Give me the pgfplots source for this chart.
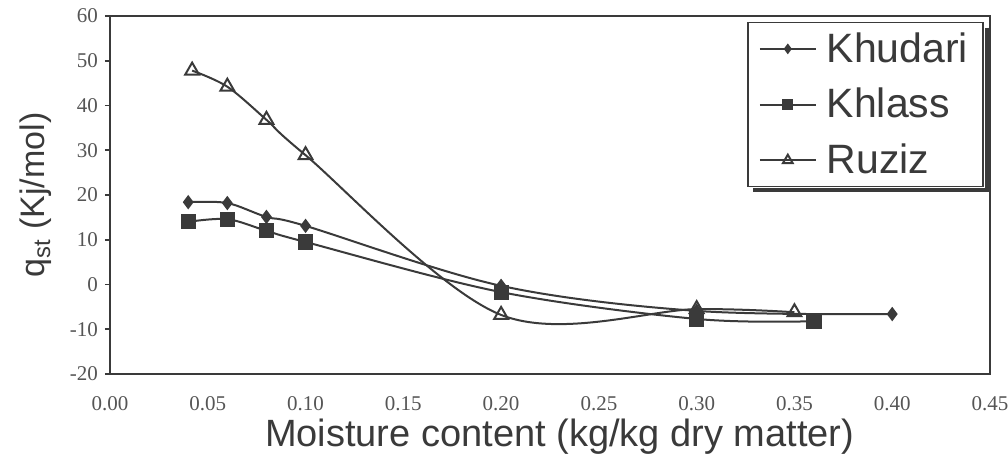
\documentclass[border=0pt]{standalone}
\usepackage{pgfplots}
\pgfplotsset{compat=1.18}
\usepackage{fontspec}
\setmainfont{Liberation Sans}
\newfontfamily\tickfont{Liberation Serif}

\definecolor{ink}{HTML}{3A3A3A}
\definecolor{tickgray}{HTML}{555555}

% Isosteric heat of sorption for three date varieties
\pgfplotstableread{
x     y
0.04  18.4
0.06  18.2
0.08  15.1
0.10  13.1
0.20  -0.3
0.30  -5.9
0.40  -6.6
}\khudari
\pgfplotstableread{
x     y
0.04  14.0
0.06  14.6
0.08  12.0
0.10  9.5
0.20  -1.7
0.30  -7.7
0.36  -8.2
}\khlass
\pgfplotstableread{
x     y
0.042 47.8
0.06  44.2
0.08  36.8
0.10  28.9
0.20  -6.8
0.30  -5.5
0.35  -6.2
}\ruziz

\begin{document}
\begin{tikzpicture}
\begin{axis}[
  scale only axis,
  width=440pt, height=179pt,
  xmin=0, xmax=0.45, ymin=-20, ymax=60,
  xtick={0,0.05,...,0.45},
  ytick={-20,-10,...,60},
  axis line style={ink, line width=1pt},
  tick style={ink, line width=0.8pt},
  major tick length=2.5pt,
  x tick style={draw=none},
  tick align=outside,
  xtick pos=bottom, ytick pos=left,
  /pgf/number format/assume math mode=true,
  xticklabel={\pgfmathprintnumber[fixed, fixed zerofill, precision=2]{\tick}},
  xticklabel style={font=\tickfont\fontsize{10.5}{12}\selectfont, text=tickgray, yshift=-5pt},
  yticklabel style={font=\tickfont\fontsize{10.5}{12}\selectfont, text=tickgray, xshift=0pt},
  xlabel={Moisture content (kg/kg dry matter)},
  ylabel={q\textsubscript{st} (Kj/mol)},
  xlabel style={font=\fontsize{19}{22}\selectfont, text=ink,
    at={(axis description cs:0.511,0)}, anchor=base, yshift=-36.5pt},
  ylabel style={font=\fontsize{17}{20}\selectfont, text=ink,
    at={(axis description cs:-0.084,0.5)}, anchor=center},
  legend style={name=keybox, at={(axis description cs:0.724,0.984)}, anchor=north west,
    font=\fontsize{20.5}{24}\selectfont, text=ink,
    draw=ink, line width=0.8pt, fill=white,
    row sep=7.5pt, inner xsep=5.5pt, inner ysep=3pt,
    cells={anchor=west}},
  legend image code/.code={
    \draw[mark repeat=2, mark phase=2, line width=0.9pt,
          every mark/.append style={scale=0.7}]
      plot coordinates {(0pt,0pt) (14pt,0pt) (28pt,0pt)};
    \path (31pt,0pt);
  },
  every axis plot/.append style={ink, line width=1pt, smooth, tension=0.55},
]
\addplot[mark=diamond*, mark size=2.8pt, mark options={fill=ink, solid}] table {\khudari};
\addlegendentry{Khudari}
\addplot[mark=square*, mark size=3.3pt, mark options={fill=ink, solid}] table {\khlass};
\addlegendentry{Khlass}
\addplot[mark=triangle, mark size=4pt, mark options={fill=white, solid, line width=1pt}] table {\ruziz};
\addlegendentry{Ruziz}
\end{axis}
% shadow along the right and bottom edges of the legend box
\draw[ink, line width=2pt]
  ([xshift=1.4pt, yshift=-3pt]keybox.north east)
  -- ([xshift=1.4pt, yshift=-1.4pt]keybox.south east)
  -- ([xshift=3pt, yshift=-1.4pt]keybox.south west);
\pgfresetboundingbox
\path[use as bounding box] (-55pt,-47.5pt) rectangle (449pt,187pt);
\end{tikzpicture}
\end{document}
